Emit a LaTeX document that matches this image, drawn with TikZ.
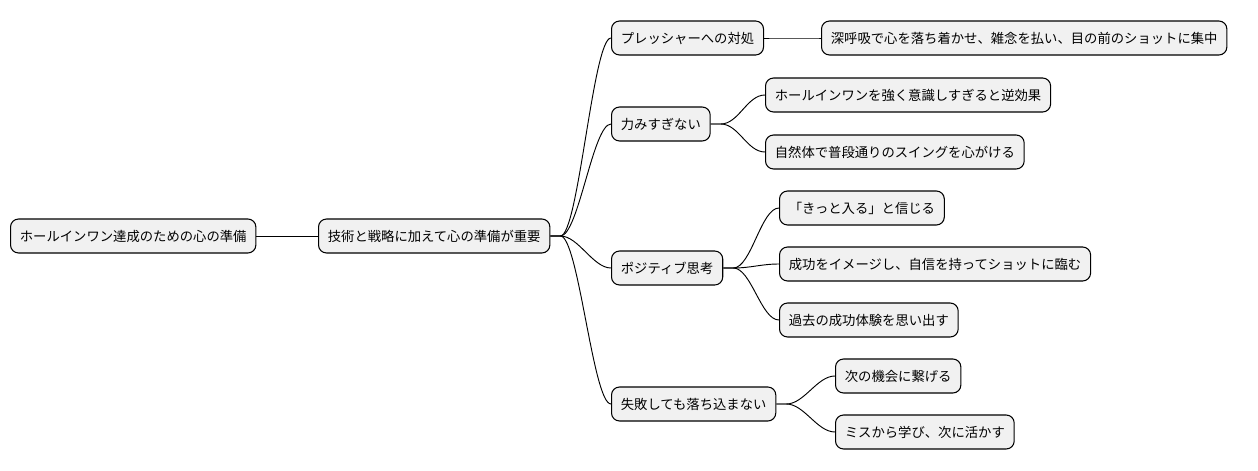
\documentclass[tikz,border=0pt]{standalone}
\usepackage{fontspec}
\setmainfont{Noto Sans CJK JP}
\definecolor{boxgray}{HTML}{F1F1F1}
\tikzset{
	topic/.style={draw=black, fill=boxgray, rounded corners=6pt, line width=0.8pt,
		minimum height=25.5pt, inner xsep=7pt, anchor=west, font=\fontsize{10}{12}\selectfont},
	branch/.style={draw=black, line width=0.7pt}
}
\begin{document}
\begin{tikzpicture}[x=0.75pt, y=-0.75pt]

	\useasboundingbox (0,0) rectangle (1258,471);

	\node[topic] (root) at (10,236) {ホールインワン達成のための心の準備};
	\node[topic] (core) at (318,236) {技術と戦略に加えて心の準備が重要};

	\node[topic] (press) at (611,38) {プレッシャーへの対処};
	\node[topic] (relax) at (611,124) {力みすぎない};
	\node[topic] (posi) at (611,268) {ポジティブ思考};
	\node[topic] (fail) at (611,404) {失敗しても落ち込まない};

	\node[topic] (breath) at (821,38) {深呼吸で心を落ち着かせ、雑念を払い、目の前のショットに集中};
	\node[topic] (aware) at (765,95) {ホールインワンを強く意識しすぎると逆効果};
	\node[topic] (swing) at (765,152) {自然体で普段通りのスイングを心がける};
	\node[topic] (trust) at (779,208) {「きっと入る」と信じる};
	\node[topic] (image) at (779,264) {成功をイメージし、自信を持ってショットに臨む};
	\node[topic] (past) at (779,320) {過去の成功体験を思い出す};
	\node[topic] (next) at (835,376) {次の機会に繋げる};
	\node[topic] (learn) at (835,432) {ミスから学び、次に活かす};

	\draw[branch] (root.east) -- (core.west);
	\foreach \a/\b in {core/press, core/relax, core/posi, core/fail,
			press/breath, relax/aware, relax/swing,
			posi/trust, posi/image, posi/past, fail/next, fail/learn}
		\draw[branch] (\a.east) -- ++(10,0) .. controls +(18,0) and +(-18,0) .. (\b.west);

\end{tikzpicture}
\end{document}
